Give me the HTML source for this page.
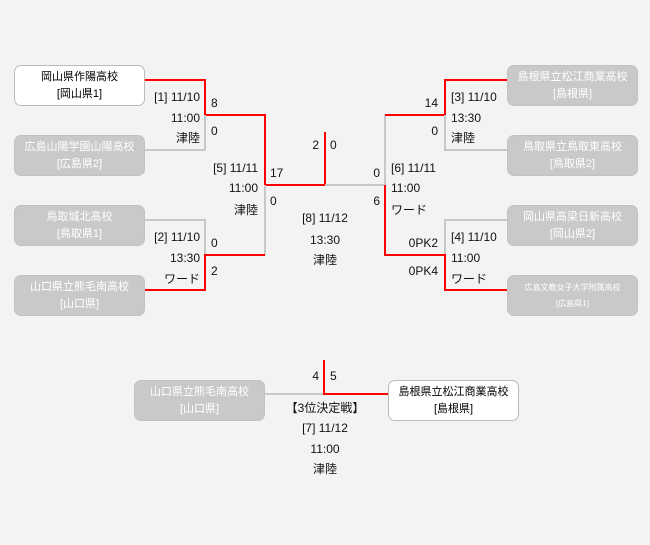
<!DOCTYPE html>
<html><head><meta charset="utf-8"><style>
*{margin:0;padding:0;box-sizing:border-box}
body{width:650px;height:545px;background:#f3f3f3;position:relative;overflow:hidden;font-family:"Liberation Sans","Noto Sans CJK JP",sans-serif;font-size:12px;color:#111}
.b{position:absolute;width:131px;height:41px;border-radius:7px;text-align:center;font-size:11px;line-height:17px;padding-top:3px}
.w{background:#fff;border:1px solid #bbb;color:#000}
.g{background:#c9c9c9;border:1px solid #c2c2c2;color:#fff}
.t{position:absolute;line-height:14px;white-space:nowrap}
.r{text-align:right}
.c{text-align:center;width:120px}
svg{position:absolute;left:0;top:0}
</style></head><body>
<svg width="650" height="545">
<g fill="none" stroke-width="2">
<polyline points="145,80 205,80 205,115 265,115 265,185 325,185 325,132" stroke="#f00"/>
<polyline points="145,150 205,150 205,115" stroke="#c8c8c8"/>
<polyline points="145,220 205,220 205,255" stroke="#c8c8c8"/>
<polyline points="265,185 265,255" stroke="#c8c8c8"/>
<polyline points="145,290 205,290 205,255 265,255" stroke="#f00"/>
<polyline points="325,185 385,185 385,115" stroke="#c8c8c8"/>
<polyline points="507,80 445,80 445,115 385,115" stroke="#f00"/>
<polyline points="507,150 445,150 445,115" stroke="#c8c8c8"/>
<polyline points="507,220 445,220 445,255" stroke="#c8c8c8"/>
<polyline points="507,290 445,290 445,255 385,255 385,185" stroke="#f00"/>
<polyline points="264,394 324,394" stroke="#c8c8c8"/>
<polyline points="324,360 324,394 388,394" stroke="#f00"/>
</g></svg>

<div class="b w" style="left:14px;top:65px">岡山県作陽高校<br>[岡山県1]</div>
<div class="b g" style="left:14px;top:135px">広島山陽学園山陽高校<br>[広島県2]</div>
<div class="b g" style="left:14px;top:205px">鳥取城北高校<br>[鳥取県1]</div>
<div class="b g" style="left:14px;top:275px">山口県立熊毛南高校<br>[山口県]</div>
<div class="b g" style="left:507px;top:65px">島根県立松江商業高校<br>[島根県]</div>
<div class="b g" style="left:507px;top:135px">鳥取県立鳥取東高校<br>[鳥取県2]</div>
<div class="b g" style="left:507px;top:205px">岡山県高梁日新高校<br>[岡山県2]</div>
<div class="b g" style="left:507px;top:275px;font-size:8px;line-height:16px;padding-top:4px">広島文教女子大学附属高校<br>[広島県1]</div>
<div class="b g" style="left:134px;top:380px">山口県立熊毛南高校<br>[山口県]</div>
<div class="b w" style="left:388px;top:380px">島根県立松江商業高校<br>[島根県]</div>

<div class="t r" style="right:450px;top:90px">[1] 11/10</div>
<div class="t r" style="right:450px;top:111px">11:00</div>
<div class="t r" style="right:450px;top:131px">津陸</div>
<div class="t" style="left:211px;top:96px">8</div>
<div class="t" style="left:211px;top:124px">0</div>
<div class="t r" style="right:392px;top:161px">[5] 11/11</div>
<div class="t r" style="right:392px;top:181px">11:00</div>
<div class="t r" style="right:392px;top:203px">津陸</div>
<div class="t" style="left:270px;top:166px">17</div>
<div class="t" style="left:270px;top:194px">0</div>
<div class="t r" style="right:450px;top:230px">[2] 11/10</div>
<div class="t r" style="right:450px;top:251px">13:30</div>
<div class="t r" style="right:450px;top:272px">ワード</div>
<div class="t" style="left:211px;top:236px">0</div>
<div class="t" style="left:211px;top:264px">2</div>
<div class="t r" style="right:331px;top:138px">2</div>
<div class="t" style="left:330px;top:138px">0</div>
<div class="t c" style="left:265px;top:211px">[8] 11/12</div>
<div class="t c" style="left:265px;top:233px">13:30</div>
<div class="t c" style="left:265px;top:253px">津陸</div>
<div class="t r" style="right:212px;top:96px">14</div>
<div class="t r" style="right:212px;top:124px">0</div>
<div class="t" style="left:451px;top:90px">[3] 11/10</div>
<div class="t" style="left:451px;top:111px">13:30</div>
<div class="t" style="left:451px;top:131px">津陸</div>
<div class="t r" style="right:270px;top:166px">0</div>
<div class="t r" style="right:270px;top:194px">6</div>
<div class="t" style="left:391px;top:161px">[6] 11/11</div>
<div class="t" style="left:391px;top:181px">11:00</div>
<div class="t" style="left:391px;top:203px">ワード</div>
<div class="t r" style="right:212px;top:236px">0PK2</div>
<div class="t r" style="right:212px;top:264px">0PK4</div>
<div class="t" style="left:451px;top:230px">[4] 11/10</div>
<div class="t" style="left:451px;top:251px">11:00</div>
<div class="t" style="left:451px;top:272px">ワード</div>
<div class="t r" style="right:331px;top:369px">4</div>
<div class="t" style="left:330px;top:369px">5</div>
<div class="t c" style="left:265px;top:401px">【3位決定戦】</div>
<div class="t c" style="left:265px;top:421px">[7] 11/12</div>
<div class="t c" style="left:265px;top:442px">11:00</div>
<div class="t c" style="left:265px;top:462px">津陸</div>
</body></html>
